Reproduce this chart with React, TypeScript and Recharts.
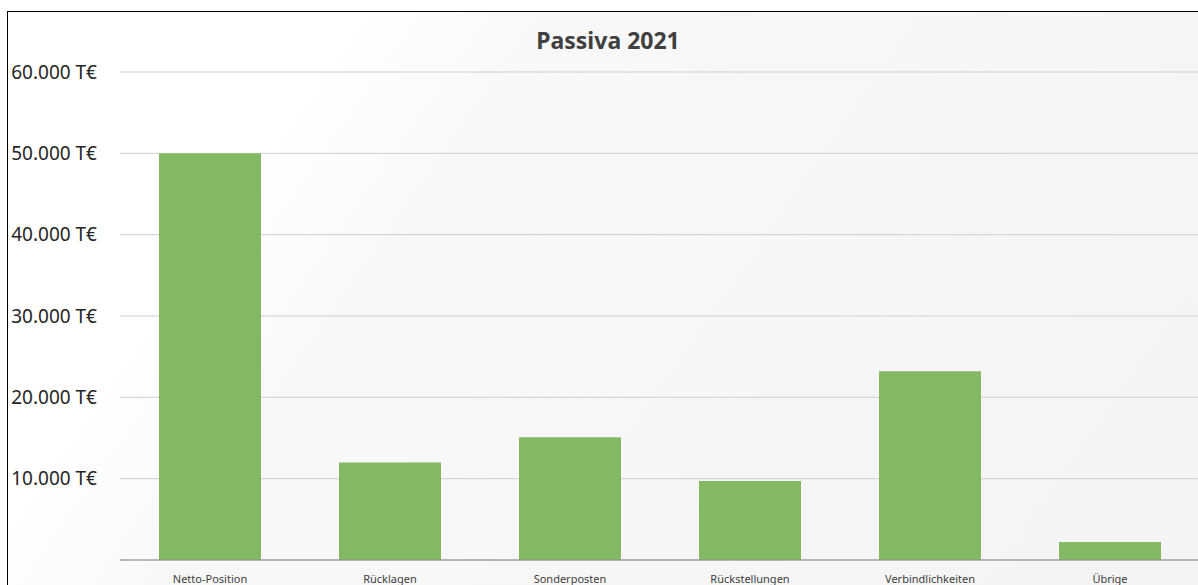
import { Bar, BarChart, CartesianGrid, XAxis, YAxis } from "recharts";

const categories = [
  "Netto-Position",
  "Rücklagen",
  "Sonderposten",
  "Rückstellungen",
  "Verbindlichkeiten",
  "Übrige",
];
const values = [50000, 12000, 15100, 9700, 23200, 2200];
const yTicks = [10000, 20000, 30000, 40000, 50000, 60000];

const data = categories.map((name, i) => ({ name, value: values[i] }));

const fmt = (v: number) => v.toLocaleString("de-DE") + " T€";

const FONT = "'Noto Sans', 'DejaVu Sans', sans-serif";

const App = () => {
  return (
    <div
      style={{
        position: "absolute",
        left: 7,
        top: 11,
        width: 1191,
        height: 574,
        boxSizing: "border-box",
        borderTop: "1px solid #000",
        borderLeft: "1px solid #000",
        overflow: "hidden",
        background:
          "linear-gradient(125deg, #ffffff 0%, #ffffff 22%, #f8f8f8 34%, #f4f4f4 100%)",
        fontFamily: FONT,
      }}
    >
      <div
        style={{
          position: "absolute",
          left: 0,
          width: 1200,
          top: 12,
          textAlign: "center",
          fontSize: 23,
          fontWeight: 700,
          color: "#404040",
        }}
      >
        Passiva 2021
      </div>
      <BarChart
        width={1192}
        height={590}
        data={data}
        margin={{ top: 60, right: 0, left: 0, bottom: 12 }}
        style={{ position: "absolute", left: 0, top: 0 }}
      >
        <CartesianGrid vertical={false} stroke="#cfcfcf" />
        <XAxis
          dataKey="name"
          interval={0}
          tickLine={false}
          tickSize={0}
          tickMargin={15}
          height={30}
          axisLine={{ stroke: "#8a8a8a" }}
          tick={{ fill: "#404040", fontSize: 11, fontFamily: FONT }}
        />
        <YAxis
          width={112}
          domain={[0, 60000]}
          ticks={yTicks}
          tickFormatter={fmt}
          axisLine={false}
          tickLine={false}
          tickSize={0}
          tickMargin={23}
          tick={{ fill: "#262626", fontSize: 19, fontFamily: FONT }}
        />
        <Bar dataKey="value" fill="#84b963" barSize={102} isAnimationActive={false} />
      </BarChart>
    </div>
  );
};

export default App;
